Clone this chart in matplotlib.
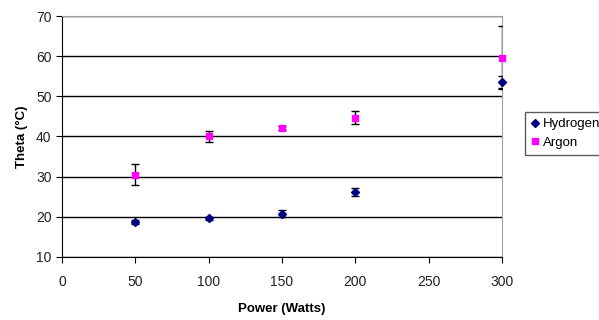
import matplotlib
matplotlib.use("Agg")
import matplotlib.pyplot as plt
from matplotlib.lines import Line2D

plt.rcParams['font.family'] = ['Liberation Sans', 'DejaVu Sans']

power = [50, 100, 150, 200, 300]
hydrogen = [18.7, 19.65, 20.8, 26.1, 53.5]
hydrogen_err = [0.4, 0.4, 0.9, 1.0, 1.5]
argon = [30.5, 40.0, 42.1, 44.7, 59.6]
argon_err = [2.6, 1.4, 0.5, 1.65, 7.8]

fig = plt.figure(figsize=(5.99, 3.2), dpi=100)
ax = fig.add_axes([62/599, 1-257/320, (502-62)/599, (257-16)/320])

ax.set_xlim(0, 300)
ax.set_ylim(10, 70)
ax.set_xticks(range(0, 301, 50))
ax.set_yticks(range(10, 71, 10))
ax.yaxis.grid(True, color='black', linewidth=1.0)
ax.set_axisbelow(True)

ax.errorbar(power, argon, yerr=argon_err, fmt='none', ecolor='black',
            elinewidth=1, capsize=3, capthick=1, zorder=3)
ax.errorbar(power, hydrogen, yerr=hydrogen_err, fmt='none', ecolor='black',
            elinewidth=1, capsize=3, capthick=1, zorder=3)
ax.plot(power, hydrogen, linestyle='none', marker='D', markersize=4,
        color='#000080', zorder=4, clip_on=False)
ax.plot(power, argon, linestyle='none', marker='s', markersize=4.5,
        color='#FF00FF', zorder=4, clip_on=False)

for s in ['top', 'right']:
    ax.spines[s].set_color('#A0A0A0')
for s in ['left', 'bottom']:
    ax.spines[s].set_color('black')
ax.tick_params(axis='both', direction='out', length=4, color='black',
               labelsize=10, labelcolor='#222222')
ax.tick_params(axis='x', pad=9)

ax.set_xlabel('Power (Watts)', fontsize=9.5, fontweight='bold', labelpad=10)
ax.set_ylabel('Theta (°C)', fontsize=9.5, fontweight='bold', labelpad=6)

handles = [
    Line2D([], [], linestyle='none', marker='D', markersize=4, color='#000080'),
    Line2D([], [], linestyle='none', marker='s', markersize=4.5, color='#FF00FF'),
]
leg = fig.legend(handles, ['Hydrogen', 'Argon'], loc='upper left',
                 bbox_to_anchor=(525/599, 1-112/320), fontsize=9.5,
                 frameon=True, fancybox=False, handlelength=0.6,
                 handletextpad=0.3, borderpad=0.45, labelspacing=0.5,
                 borderaxespad=0)
leg.get_frame().set_edgecolor('#333333')
leg.get_frame().set_linewidth(1.0)

fig.savefig('out.png', dpi=100)
